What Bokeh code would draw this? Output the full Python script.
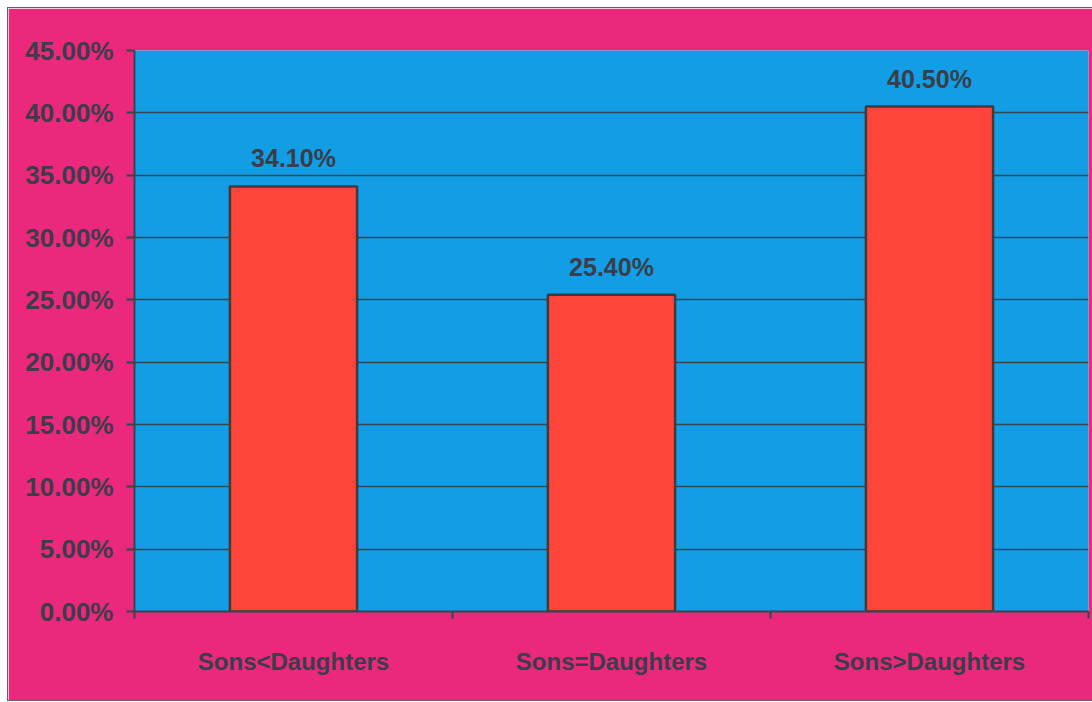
from bokeh.plotting import figure
from bokeh.models import (Range1d, LinearAxis, FixedTicker, NumeralTickFormatter,
                          ColumnDataSource, Grid)
from bokeh.core.properties import value
from bokeh.embed import file_html
from bokeh.resources import INLINE

categories = ["Sons<Daughters", "Sons=Daughters", "Sons>Daughters"]
shares = [0.341, 0.254, 0.405]
share_labels = ["34.10%", "25.40%", "40.50%"]
y_ticks = [0.0, 0.05, 0.10, 0.15, 0.20, 0.25, 0.30, 0.35, 0.40, 0.45]

PINK = "#EA297D"
BLUE = "#129DE4"
RED = "#FF4539"
TEXT = "#3b3d48"
DARK = "#34474c"
FONT = "Liberation Sans"

xs = [i + 0.5 for i in range(len(categories))]
src = ColumnDataSource(dict(x=xs, top=shares, label=share_labels))

p = figure(width=1084, height=692, x_range=Range1d(0, len(categories)),
           y_range=Range1d(0, 0.45), output_backend="svg", toolbar_location=None,
           x_axis_type=None, y_axis_type=None,
           min_border_left=126, min_border_top=42, min_border_right=4, min_border_bottom=89,
           background_fill_color=BLUE, border_fill_color=PINK, outline_line_color=None)
p.margin = (8, 0, 0, 8)
p.styles = {"outline": "1px solid #6b5a66"}

yaxis = LinearAxis(ticker=FixedTicker(ticks=y_ticks, minor_ticks=[]),
                   formatter=NumeralTickFormatter(format="0.00%"))
yaxis.major_label_text_font = FONT
yaxis.major_label_text_font_size = "26px"
yaxis.major_label_text_font_style = "bold"
yaxis.major_label_text_color = TEXT
yaxis.major_tick_out = 8
yaxis.major_tick_in = 0
yaxis.major_tick_line_color = DARK
yaxis.major_tick_line_width = 2
yaxis.axis_line_color = DARK
yaxis.axis_line_width = 2
yaxis.major_label_standoff = 13
p.add_layout(yaxis, "left")
p.add_layout(Grid(dimension=1, ticker=yaxis.ticker, grid_line_color=DARK,
                  grid_line_width=1.5))

xaxis = LinearAxis(ticker=FixedTicker(ticks=xs, minor_ticks=list(range(len(categories) + 1))))
xaxis.major_label_overrides = {x: c for x, c in zip(xs, categories)}
xaxis.major_tick_out = 0
xaxis.major_tick_in = 0
xaxis.minor_tick_out = 7
xaxis.minor_tick_in = 0
xaxis.minor_tick_line_color = DARK
xaxis.minor_tick_line_width = 2
xaxis.axis_line_color = DARK
xaxis.axis_line_width = 2
xaxis.major_label_text_font = FONT
xaxis.major_label_text_font_size = "24px"
xaxis.major_label_text_font_style = "bold"
xaxis.major_label_text_color = TEXT
xaxis.major_label_standoff = 29
p.add_layout(xaxis, "below")

p.vbar(x="x", top="top", width=0.4, bottom=0, source=src, fill_color=RED,
       line_color="#3c3c3c", line_width=2.5)
p.text(x="x", y="top", text="label", source=src, text_align="center",
       text_baseline="bottom", y_offset=-14, text_font=value(FONT),
       text_font_size="25px", text_font_style="bold", text_color=TEXT)

open("out.html", "w").write(file_html(p, INLINE))
